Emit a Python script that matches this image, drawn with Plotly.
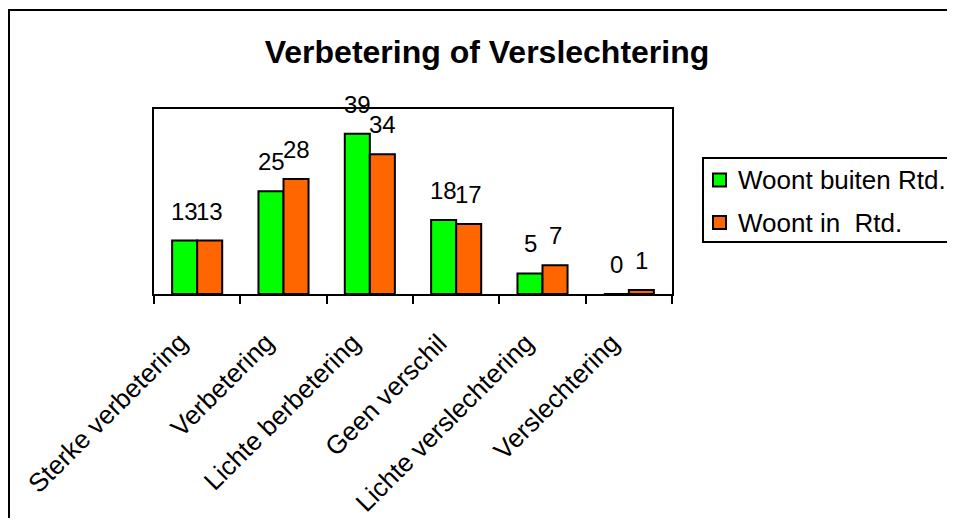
import plotly.graph_objects as go

categories = ["Sterke verbetering", "Verbetering", "Lichte berbetering",
              "Geen verschil", "Lichte verslechtering", "Verslechtering"]
buiten = [13, 25, 39, 18, 5, 0]
inrtd = [13, 28, 34, 17, 7, 1]
series_names = ["Woont buiten Rtd.", "Woont in  Rtd."]
colors = ["#00FF00", "#FF6600"]

FONT = "Liberation Sans, Arial, sans-serif"

# page body has an 8px margin on every side; figure sized to fit the window exactly
W, H = 955 - 16, 526 - 16
L, T = 146, 101
PW, PH = 518, 185
# screen coordinates of the plot area (figure offset by 8px)
SX0, SY0 = L + 8, T + 8 + PH   # left, bottom


def px(x):
    return (x - SX0) / PW


def py(y):
    return (SY0 - y) / PH


fig = go.Figure()
for name, vals, col in zip(series_names, [buiten, inrtd], colors):
    fig.add_trace(go.Bar(
        x=categories, y=vals, name=name, showlegend=False,
        marker=dict(color=col, line=dict(color="black", width=2)),
    ))

annotations = []
for vals, shift in zip([buiten, inrtd], [-12.5, 12.5]):
    for c, v in zip(categories, vals):
        annotations.append(dict(
            x=c, y=v, xref="x", yref="y", text=str(v), showarrow=False,
            xshift=shift, yshift=14, yanchor="bottom",
            font=dict(family=FONT, size=24, color="black")))
for c in categories:
    annotations.append(dict(
        x=c, y=0, xref="x", yref="y", text=c, showarrow=False,
        textangle=-45, xanchor="right", yanchor="top",
        xshift=-1, yshift=-31,
        font=dict(family=FONT, size=26, color="black")))

shapes = [
    # outer chart border (top and left edges; right/bottom run off the picture)
    dict(type="line", xref="paper", yref="paper",
         x0=px(8), x1=px(1000), y0=py(10), y1=py(10),
         line=dict(color="black", width=2), layer="below"),
    dict(type="line", xref="paper", yref="paper",
         x0=px(9), x1=px(9), y0=py(9), y1=py(600),
         line=dict(color="black", width=2), layer="below"),
    # legend box
    dict(type="rect", xref="paper", yref="paper",
         x0=px(703), x1=px(975), y0=py(242), y1=py(158),
         line=dict(color="black", width=2), fillcolor="white"),
]
row_y = [180, 222.5]
for name, col, ry in zip(series_names, colors, row_y):
    shapes.append(dict(type="rect", xref="paper", yref="paper",
                       x0=px(713), x1=px(726), y0=py(ry + 6.5), y1=py(ry - 6.5),
                       line=dict(color="black", width=2), fillcolor=col))
    annotations.append(dict(x=px(736), y=py(ry), xref="paper", yref="paper",
                            text=name, showarrow=False, xanchor="left",
                            yanchor="middle",
                            font=dict(family=FONT, size=26, color="black")))

fig.update_layout(
    width=W, height=H,
    margin=dict(l=L, r=W - L - PW, t=T, b=H - T - PH),
    paper_bgcolor="white", plot_bgcolor="white",
    barmode="group", bargap=0.42, bargroupgap=0,
    showlegend=False,
    font=dict(family=FONT, size=26, color="black"),
    title=dict(text="<b>Verbetering of Verslechtering</b>",
               font=dict(family=FONT, size=32, color="black"),
               x=479 / W, xref="container", xanchor="center",
               y=1 - 44 / H, yref="container", yanchor="middle"),
    annotations=annotations,
    shapes=shapes,
)
fig.update_xaxes(range=[-0.5, len(categories) - 0.5],
                 showline=True, linecolor="black", linewidth=2, mirror=True,
                 ticks="outside", tickson="boundaries", ticklen=8, tickwidth=2,
                 tickcolor="black", showticklabels=False, showgrid=False)
fig.update_yaxes(range=[0, 45], showline=True, linecolor="black", linewidth=2,
                 mirror=True, showticklabels=False, ticks="", showgrid=False,
                 zeroline=False)

fig.write_html("out.html")
